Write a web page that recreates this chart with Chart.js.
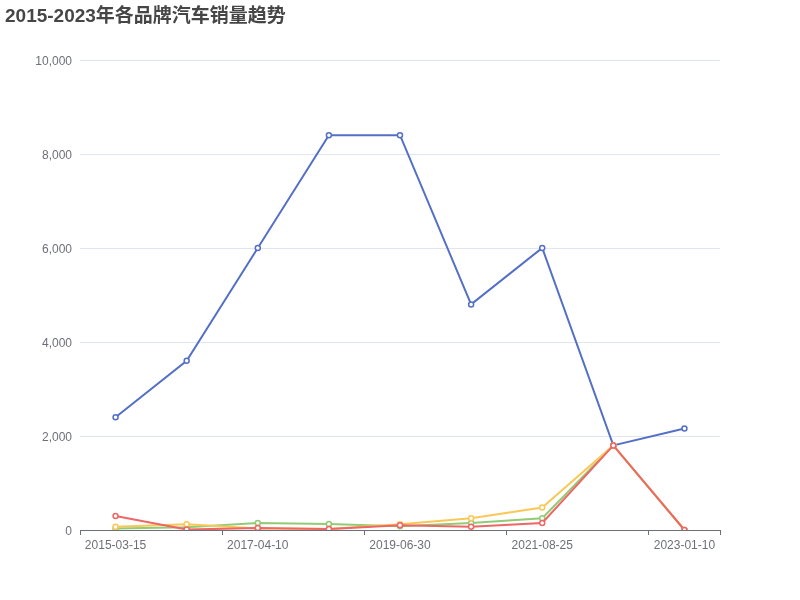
<!DOCTYPE html>
<html>
<head>
<meta charset="utf-8">
<title>2015-2023年各品牌汽车销量趋势</title>
<script src="https://cdn.jsdelivr.net/npm/chart.js@4/dist/chart.umd.min.js"></script>
<style>
  body { margin: 0; background: #fff; }
  #wrap { position: relative; width: 800px; height: 600px; }
  #title {
    position: absolute; left: 5px; top: 5px;
    font: bold 19px "Liberation Sans", "Noto Sans CJK SC", sans-serif;
    color: #464646; line-height: 22px;
  }
</style>
</head>
<body>
<div id="wrap">
  <div id="title">2015-2023年各品牌汽车销量趋势</div>
  <canvas id="myChart" width="800" height="600"></canvas>
</div>
<script>
// data
var dates = ['2015-03-15', '2016-04-20', '2017-04-10', '2018-05-18', '2019-06-30', '2020-07-22', '2021-08-25', '2022-03-16', '2023-01-10'];
var brandA = [2400, 3600, 6000, 8400, 8400, 4800, 6000, 1800, 2160];
var brandB = [30, 60, 150, 130, 80, 150, 250, 1800, 0];
var brandC = [70, 120, 30, 20, 120, 250, 480, 1800, 0];
var brandD = [300, 10, 40, 20, 100, 70, 150, 1800, 0];
var yTicks = [0, 2000, 4000, 6000, 8000, 10000];

var colors = ['#5470c6', '#91cc75', '#fac858', '#ee6666'];
var axisColor = '#6E7079';
var font = { family: '"Liberation Sans", "Noto Sans CJK SC", sans-serif', size: 12 };

function makeSet(name, values, i) {
    return {
        label: name,
        data: values,
        borderColor: colors[i],
        backgroundColor: '#fff',
        borderWidth: 2,
        pointRadius: 2.5,
        pointBorderWidth: 1.5,
        pointBackgroundColor: '#fff',
        pointBorderColor: colors[i],
        tension: 0,
        order: 4 - i
    };
}

var graph = new Chart(document.getElementById('myChart'), {
    type: 'line',
    data: {
        labels: dates,
        datasets: [
            makeSet('品牌A', brandA, 0),
            makeSet('品牌B', brandB, 1),
            makeSet('品牌C', brandC, 2),
            makeSet('品牌D', brandD, 3)
        ]
    },
    options: {
        responsive: false,
        animation: false,
        layout: { padding: { left: 0, right: 80, top: 60, bottom: 0 } },
        plugins: {
            legend: { display: false },
            title: { display: false },
            tooltip: { enabled: false }
        },
        scales: {
            x: {
                offset: true,
                afterFit: function (scale) { scale.height = 70; },
                border: { display: true, color: axisColor, width: 1 },
                grid: {
                    offset: true,
                    drawOnChartArea: false,
                    drawTicks: true,
                    tickLength: 5,
                    color: function (ctx) {
                        return (ctx.index === undefined || ctx.index % 2 === 0) ? axisColor : 'rgba(0,0,0,0)';
                    }
                },
                ticks: {
                    autoSkip: false,
                    maxRotation: 0,
                    padding: 3,
                    color: axisColor,
                    font: font,
                    callback: function (val, idx) {
                        return idx % 2 === 0 ? this.getLabelForValue(val) : '';
                    }
                }
            },
            y: {
                min: yTicks[0],
                max: yTicks[yTicks.length - 1],
                afterFit: function (scale) { scale.width = 80; },
                afterBuildTicks: function (scale) {
                    scale.ticks = yTicks.map(function (v) { return { value: v }; });
                },
                border: { display: false },
                grid: { color: '#E0E6F1', drawTicks: false },
                ticks: {
                    padding: 8,
                    labelOffset: 1.5,
                    color: axisColor,
                    font: font,
                    callback: function (v) { return v.toLocaleString('en-US'); }
                }
            }
        }
    }
});
</script>
</body>
</html>
